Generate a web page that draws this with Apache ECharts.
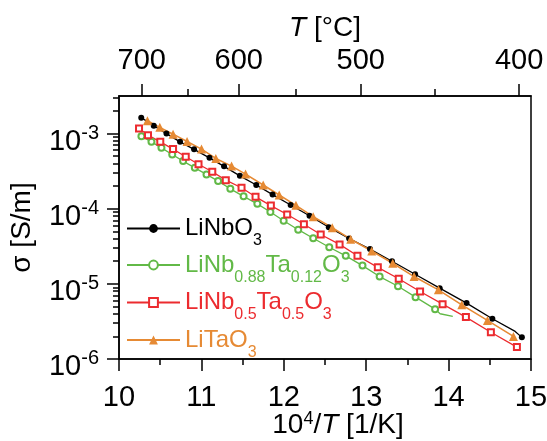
<!DOCTYPE html>
<html><head><meta charset="utf-8">
<script src="https://cdn.jsdelivr.net/npm/echarts@6/dist/echarts.min.js"></script>
<style>html,body{margin:0;padding:0;background:#fff}#c{width:547px;height:441px}</style>
</head><body><div id="c"></div>
<script>
// ---- data (x = 10^4/T [1/K], y = sigma [S/m]) ----
const seriesNames = ['LiNbO3', 'LiNb0.88Ta0.12O3', 'LiNb0.5Ta0.5O3', 'LiTaO3'];
const nbX = [10.270,10.422,10.576,10.741,10.911,11.098,11.275,11.467,11.666,11.864,12.083,12.312,12.546,12.793,13.046,13.313,13.593,13.892,14.218,14.531,14.808,14.889];
const nbY = [1.63e-3,1.27e-3,1.00e-3,7.76e-4,6.17e-4,4.75e-4,3.66e-4,2.74e-4,2.07e-4,1.54e-4,1.12e-4,8.05e-5,5.67e-5,4.02e-5,2.90e-5,2.00e-5,1.34e-5,8.77e-6,5.55e-6,3.43e-6,2.33e-6,1.94e-6];
const nbUnmarked = [20];
const gX = [10.272,10.394,10.515,10.646,10.778,10.920,11.062,11.203,11.351,11.512,11.679,11.837,11.998,12.175,12.357,12.552,12.752,12.955,13.163,13.386,13.599,13.836,13.897,14.051];
const gY = [9.23e-4,7.76e-4,6.46e-4,5.27e-4,4.30e-4,3.50e-4,2.86e-4,2.33e-4,1.84e-4,1.46e-4,1.16e-4,9.03e-5,6.93e-5,5.26e-5,4.05e-5,3.07e-5,2.36e-5,1.75e-5,1.25e-5,9.29e-6,6.65e-6,4.61e-6,4.0e-6,3.68e-6];
const gUnmarked = [22, 23];
const rX = [10.243,10.352,10.501,10.656,10.810,10.965,11.132,11.296,11.487,11.657,11.843,12.041,12.244,12.448,12.677,12.894,13.141,13.395,13.654,13.927,14.210,14.513,14.829];
const rY = [1.17e-3,9.53e-4,7.76e-4,6.21e-4,4.91e-4,3.90e-4,3.10e-4,2.40e-4,1.90e-4,1.44e-4,1.10e-4,8.38e-5,6.22e-5,4.54e-5,3.35e-5,2.37e-5,1.66e-5,1.17e-5,7.91e-6,5.37e-6,3.61e-6,2.27e-6,1.44e-6];
const tX = [10.345,10.495,10.656,10.826,11.001,11.175,11.366,11.536,11.750,11.944,12.147,12.357,12.588,12.812,13.067,13.322,13.581,13.876,14.160,14.471,14.787];
const tY = [1.48e-3,1.21e-3,9.82e-4,7.85e-4,6.21e-4,4.67e-4,3.69e-4,2.89e-4,2.07e-4,1.52e-4,1.11e-4,7.83e-5,5.60e-5,3.93e-5,2.74e-5,1.88e-5,1.25e-5,8.32e-6,5.26e-6,3.26e-6,2.00e-6];
const topTickC = [700, 600, 500, 400];
const topMinorC = [650, 550, 450];
const yDecades = [-6, -5, -4, -3];

// ---- helpers ----
const FONT = "'Liberation Sans', Arial, Helvetica, sans-serif";
const toInvT = c => 1e4 / (c + 273.15);
const topPos = topTickC.map(toInvT);
const topMinorPos = topMinorC.map(toInvT);
const yMinor = [];
yDecades.forEach(d => { for (let k = 2; k <= 9; k++) { const v = d + Math.log10(k); if (v <= -2.5) yMinor.push(v); } });

function pairs(xs, ys, unmarked) {
  return xs.map((x, i) => unmarked && unmarked.indexOf(i) >= 0 ? { value: [x, ys[i]], symbol: 'none' } : [x, ys[i]]);
}
const C = { k: '#000000', g: '#62b947', r: '#ec2b2f', o: '#e68a34' };
const axisLineStyle = { color: '#000', width: 1.5 };

const legendRich = {};
Object.keys(C).forEach(key => {
  legendRich[key] = { color: C[key], fontSize: 24, fontFamily: FONT, lineHeight: 37, verticalAlign: 'middle' };
  legendRich[key + 's'] = { color: C[key], fontSize: 16, fontFamily: FONT, lineHeight: 9, verticalAlign: 'top', padding: [23, 0, 0, 0] };
});
function legendFmt(name) {
  const key = name === 'LiNbO3' ? 'k' : name === 'LiTaO3' ? 'o' : name.indexOf('0.88') >= 0 ? 'g' : 'r';
  const parts = name.split(/(\d+(?:\.\d+)?)/).filter(s => s.length);
  return parts.map(p => /^\d/.test(p) ? '{' + key + 's|' + p + '}' : '{' + key + '|' + p + '}').join('');
}
const legendRowTops = [210, 246.5, 284, 321.5];
const legends = seriesNames.map((n, i) => ({
  orient: 'vertical', left: 126, top: legendRowTops[i], padding: 0, itemWidth: 53, itemHeight: 11,
  selectedMode: false, data: [n], formatter: legendFmt,
  textStyle: { rich: legendRich, fontFamily: FONT }
}));

const chart = echarts.init(document.getElementById('c'), null, { renderer: 'canvas' });
chart.setOption({
  animation: false,
  backgroundColor: '#fff',
  grid: { left: 119, right: 16, top: 96, bottom: 82, containLabel: false, outerBoundsMode: 'none',
    show: true, borderColor: '#000', borderWidth: 1.5, backgroundColor: 'transparent' },
  legend: legends,
  xAxis: [
    {
      type: 'value', position: 'bottom', min: 10, max: 15, interval: 1,
      axisLine: { show: true, onZero: false, lineStyle: axisLineStyle },
      axisTick: { show: true, inside: false, length: 12, lineStyle: axisLineStyle },
      minorTick: { show: true, splitNumber: 2, length: 6, lineStyle: axisLineStyle },
      splitLine: { show: false },
      axisLabel: { fontSize: 29, fontFamily: FONT, color: '#000', margin: 24, lineHeight: 30 },
      name: '10{s|4}/{i|T} [1/K]', nameLocation: 'middle', nameGap: 51, nameMoveOverlap: false,
      nameTextStyle: { fontSize: 28, fontFamily: FONT, color: '#000', padding: [0, 0, 0, 26], rich: {
        s: { fontSize: 18, fontFamily: FONT, verticalAlign: 'top', lineHeight: 18 },
        i: { fontSize: 28, fontFamily: FONT, fontStyle: 'italic', lineHeight: 30 } } }
    },
    {
      type: 'value', position: 'top', min: 10, max: 15,
      axisLine: { show: true, onZero: false, lineStyle: axisLineStyle },
      axisTick: { show: true, inside: false, length: 12, customValues: topPos, lineStyle: axisLineStyle },
      axisLabel: { customValues: topPos, fontSize: 29, fontFamily: FONT, color: '#000', margin: 20, lineHeight: 30,
        formatter: v => { let bi = 0; topPos.forEach((p, i) => { if (Math.abs(p - v) < Math.abs(topPos[bi] - v)) bi = i; }); return String(topTickC[bi]); } },
      splitLine: { show: false },
      name: '{i|T} [°C]', nameLocation: 'middle', nameGap: 54, nameMoveOverlap: false,
      nameTextStyle: { fontSize: 28, fontFamily: FONT, color: '#000', rich: {
        i: { fontSize: 28, fontFamily: FONT, fontStyle: 'italic' } } }
    },
    {
      type: 'value', position: 'top', min: 10, max: 15,
      axisLine: { show: false },
      axisTick: { show: true, inside: false, length: 7, customValues: topMinorPos, lineStyle: axisLineStyle },
      axisLabel: { show: false },
      splitLine: { show: false }
    }
  ],
  yAxis: [
    {
      type: 'log', logBase: 10, min: 1e-6, max: Math.pow(10, -2.5), position: 'left',
      axisLine: { show: true, onZero: false, lineStyle: axisLineStyle },
      axisTick: { show: false }, axisLabel: { show: false }, splitLine: { show: false }, minorTick: { show: false },
      name: 'σ [S/m]', nameLocation: 'middle', nameRotate: 90, nameGap: 83, nameMoveOverlap: false,
      nameTextStyle: { fontSize: 28, fontFamily: FONT, color: '#000' }
    },
    {
      type: 'value', min: -6, max: -2.5, position: 'left',
      axisLine: { show: false },
      axisTick: { show: true, inside: false, length: 12, customValues: yDecades, lineStyle: axisLineStyle },
      axisLabel: { customValues: yDecades, margin: 20, color: '#000',
        formatter: v => '{b|10}{s|' + Math.round(v) + '}',
        rich: {
          b: { fontSize: 29, fontFamily: FONT, color: '#000', lineHeight: 29, verticalAlign: 'top', padding: [8, 0, 8, 0] },
          s: { fontSize: 20, fontFamily: FONT, color: '#000', lineHeight: 20, verticalAlign: 'top', padding: [4, 0, 0, 0] }
        } },
      splitLine: { show: false }
    },
    {
      type: 'value', min: -6, max: -2.5, position: 'left',
      axisLine: { show: false },
      axisTick: { show: true, inside: false, length: 6, customValues: yMinor, lineStyle: axisLineStyle },
      axisLabel: { show: false },
      splitLine: { show: false }
    }
  ],
  series: [
    { name: seriesNames[0], type: 'line', xAxisIndex: 0, yAxisIndex: 0, data: pairs(nbX, nbY, nbUnmarked),
      symbol: 'circle', symbolSize: 6, showAllSymbol: true, color: C.k,
      lineStyle: { color: C.k, width: 1.3 }, itemStyle: { color: C.k } },
    { name: seriesNames[1], type: 'line', xAxisIndex: 0, yAxisIndex: 0, data: pairs(gX, gY, gUnmarked),
      symbol: 'emptyCircle', symbolSize: 6, showAllSymbol: true, color: C.g,
      lineStyle: { color: C.g, width: 1.3 }, itemStyle: { color: C.g, borderColor: C.g, borderWidth: 1 } },
    { name: seriesNames[2], type: 'line', xAxisIndex: 0, yAxisIndex: 0, data: pairs(rX, rY),
      symbol: 'emptyRect', symbolSize: 6, showAllSymbol: true, color: C.r,
      lineStyle: { color: C.r, width: 1.3 }, itemStyle: { color: C.r, borderColor: C.r, borderWidth: 1 } },
    { name: seriesNames[3], type: 'line', xAxisIndex: 0, yAxisIndex: 0, data: pairs(tX, tY),
      symbol: 'triangle', symbolSize: 9, showAllSymbol: true, color: C.o,
      lineStyle: { color: C.o, width: 1.6 }, itemStyle: { color: C.o } }
  ]
});
</script>
</body></html>
